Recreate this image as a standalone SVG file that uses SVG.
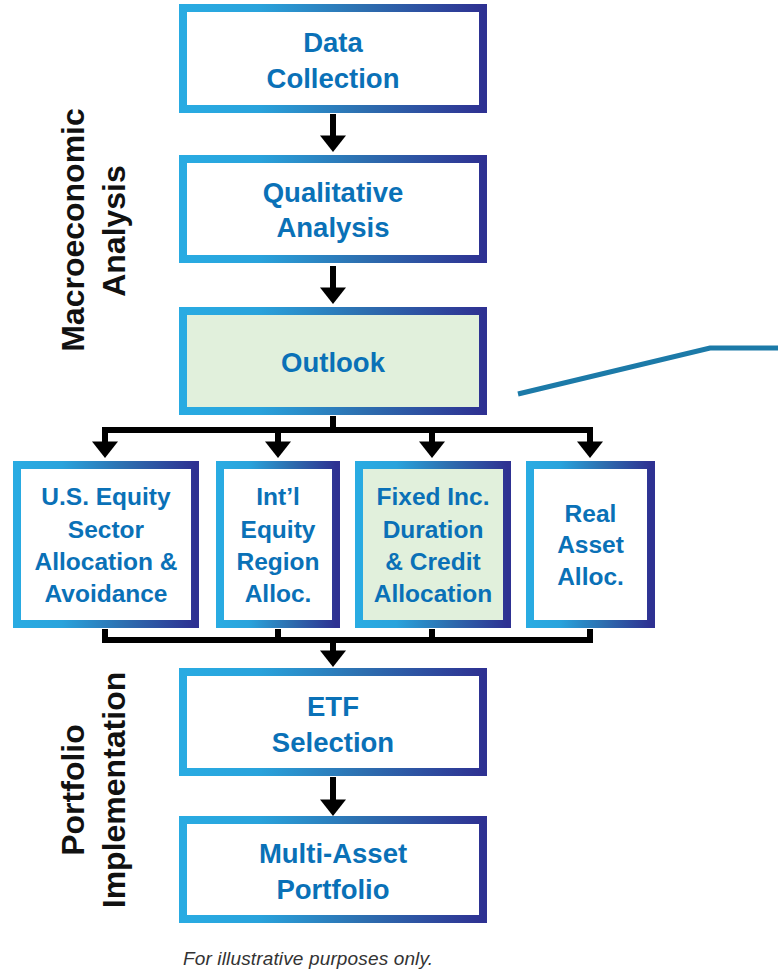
<svg xmlns="http://www.w3.org/2000/svg" width="778" height="976" viewBox="0 0 778 976">
<defs>
<linearGradient id="bd" x1="0" y1="0" x2="1" y2="0">
<stop offset="0" stop-color="#29abe2"/>
<stop offset="0.25" stop-color="#29a3dc"/>
<stop offset="0.6" stop-color="#2d6fb0"/>
<stop offset="1" stop-color="#2e3192"/>
</linearGradient>
<marker id="ah" markerUnits="userSpaceOnUse" markerWidth="17" markerHeight="26" refX="0.5" refY="13" orient="auto" overflow="visible">
<path d="M0,0 L16.5,13 L0,26 Z" fill="#000"/>
</marker>
<style>
.box{fill:#fff;stroke:url(#bd);stroke-width:8}
.hl{fill:#e1f0dc}
.t{font-family:"Liberation Sans",Arial,Helvetica,sans-serif;font-weight:bold;fill:#0a71b7;text-anchor:middle}
.big{font-size:27.5px}
.sm{font-size:24.5px}
.side{font-family:"Liberation Sans",Arial,Helvetica,sans-serif;font-weight:bold;font-size:32px;fill:#111;text-anchor:middle}
.c{fill:none;stroke:#000;stroke-width:6;stroke-linejoin:miter}
.note{font-family:"Liberation Sans",Arial,Helvetica,sans-serif;font-style:italic;font-size:19px;fill:#333}
</style>
</defs>

<g id="side-labels">
<text class="side" transform="translate(84,230) rotate(-90)">Macroeconomic</text>
<text class="side" transform="translate(125,231) rotate(-90)">Analysis</text>
<text class="side" transform="translate(84,790) rotate(-90)">Portfolio</text>
<text class="side" transform="translate(125,790) rotate(-90)">Implementation</text>
</g>

<g id="connectors">
<path class="c" d="M333,114 V136" marker-end="url(#ah)"/>
<path class="c" d="M333,266 V288" marker-end="url(#ah)"/>
<path class="c" d="M333,416 V430 H105 V442" marker-end="url(#ah)"/>
<path class="c" d="M333,430 H278 V442" marker-end="url(#ah)"/>
<path class="c" d="M333,430 H432 V442" marker-end="url(#ah)"/>
<path class="c" d="M333,430 H590 V442" marker-end="url(#ah)"/>
<path class="c" d="M105,629 V640 H333 V651" marker-end="url(#ah)"/>
<path class="c" d="M278,629 V640 H333"/>
<path class="c" d="M432,629 V640 H333"/>
<path class="c" d="M590,629 V640 H333"/>
<path class="c" d="M333,777 V800" marker-end="url(#ah)"/>
</g>

<g id="callout-line">
<polyline points="518,394 710,348 778,348" fill="none" stroke="#1c7aa8" stroke-width="5"/>
</g>

<g id="data-collection">
<rect class="box" x="183" y="8" width="300" height="101"/>
<text class="t big" x="333" y="52">Data</text>
<text class="t big" x="333" y="88">Collection</text>
</g>

<g id="qualitative-analysis">
<rect class="box" x="183" y="159" width="300" height="100"/>
<text class="t big" x="333" y="202">Qualitative</text>
<text class="t big" x="333" y="237">Analysis</text>
</g>

<g id="outlook">
<rect class="box hl" x="183" y="311" width="300" height="100"/>
<text class="t big" x="333" y="372">Outlook</text>
</g>

<g id="us-equity">
<rect class="box" x="17" y="465" width="178" height="159"/>
<text class="t sm" x="106" y="505">U.S. Equity</text>
<text class="t sm" x="106" y="538">Sector</text>
<text class="t sm" x="106" y="570">Allocation &amp;</text>
<text class="t sm" x="106" y="602">Avoidance</text>
</g>

<g id="intl-equity">
<rect class="box" x="220" y="465" width="116" height="159"/>
<text class="t sm" x="278" y="505">Int’l</text>
<text class="t sm" x="278" y="538">Equity</text>
<text class="t sm" x="278" y="570">Region</text>
<text class="t sm" x="278" y="602">Alloc.</text>
</g>

<g id="fixed-income">
<rect class="box hl" x="359" y="465" width="148" height="159"/>
<text class="t sm" x="433" y="505">Fixed Inc.</text>
<text class="t sm" x="433" y="538">Duration</text>
<text class="t sm" x="433" y="570">&amp; Credit</text>
<text class="t sm" x="433" y="602">Allocation</text>
</g>

<g id="real-asset">
<rect class="box" x="530" y="465" width="121" height="159"/>
<text class="t sm" x="590.5" y="522">Real</text>
<text class="t sm" x="590.5" y="553">Asset</text>
<text class="t sm" x="590.5" y="585">Alloc.</text>
</g>

<g id="etf-selection">
<rect class="box" x="183" y="672" width="300" height="100"/>
<text class="t big" x="333" y="716">ETF</text>
<text class="t big" x="333" y="752">Selection</text>
</g>

<g id="multi-asset">
<rect class="box" x="183" y="820" width="300" height="99"/>
<text class="t big" x="333" y="863">Multi-Asset</text>
<text class="t big" x="333" y="899">Portfolio</text>
</g>

<text class="note" x="183" y="965" textLength="250" lengthAdjust="spacing">For illustrative purposes only.</text>
</svg>
